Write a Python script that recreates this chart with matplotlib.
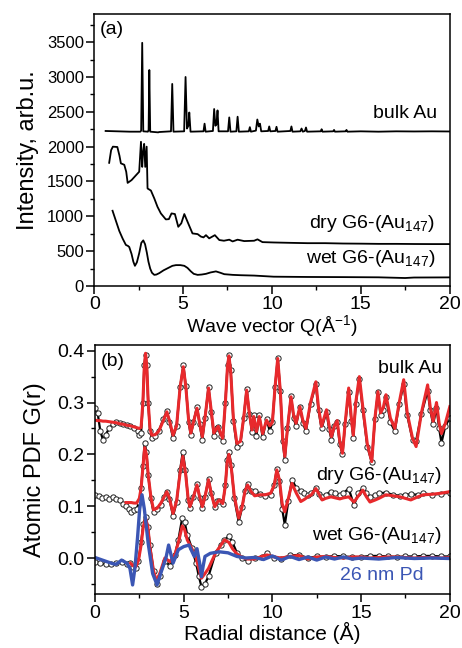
import matplotlib
matplotlib.use("Agg")
import matplotlib.pyplot as plt
from matplotlib.ticker import MultipleLocator

plt.rcParams["font.family"] = ["Liberation Sans", "DejaVu Sans"]
plt.rcParams["mathtext.default"] = "regular"

RED = "#E8292C"
BLUE = "#3B56B4"
nan = float("nan")

# ---- panel (a): diffraction patterns, Q in 1/A, intensity arb.u.
BULK_Q = [0.64, 2.0, 2.6, 2.64, 2.70, 2.76, 3.02, 3.06, 3.10, 3.15, 3.6, 3.65,
          4.32, 4.39, 4.46, 5.06, 5.14, 5.22, 5.30, 5.35, 5.42, 6.15, 6.21, 6.27,
          6.68, 6.75, 6.82, 6.88, 6.94, 7.00, 7.53, 7.60, 7.67, 8.0, 8.07, 8.14,
          8.70, 8.76, 8.82, 9.10, 9.18, 9.26, 9.33, 9.40, 9.79, 9.85, 9.91,
          10.2, 10.26, 10.32, 11.04, 11.1, 11.16, 11.6, 11.67, 11.74, 11.86,
          11.92, 11.98, 12.75, 12.8, 12.85, 13.45, 13.5, 13.55, 14.15, 14.2,
          14.25, 15.0, 16.0, 17.0, 18.0, 19.0, 20.0]
BULK_I = [2225, 2215, 2215, 2230, 3490, 2220, 2215, 2240, 3100, 2215, 2205, 2210,
          2220, 2900, 2215, 2220, 3000, 2260, 2300, 2490, 2215, 2220, 2330, 2215,
          2225, 2540, 2300, 2320, 2520, 2220, 2220, 2420, 2215, 2220, 2430, 2215,
          2220, 2280, 2215, 2230, 2390, 2290, 2330, 2220, 2225, 2290, 2220,
          2225, 2285, 2215, 2225, 2290, 2215, 2220, 2260, 2215, 2225,
          2275, 2215, 2220, 2250, 2215, 2220, 2240, 2215, 2220, 2240,
          2215, 2220, 2215, 2220, 2218, 2220, 2218]

DRY_Q = [0.84, 0.95, 1.05, 1.3, 1.42, 1.5, 1.69, 1.8, 1.88, 2.1, 2.35, 2.53,
         2.63, 2.70, 2.74, 2.81, 2.87, 2.95, 3.0, 3.19, 3.38, 3.56, 3.75, 4.03,
         4.2, 4.35, 4.54, 4.73, 4.9, 5.07, 5.29, 5.53, 5.82, 6.0, 6.15, 6.29,
         6.47, 6.79, 7.04, 7.3, 7.6, 7.79, 8.07, 8.44, 9.0, 9.19, 9.47, 10.1,
         11, 12, 13, 14, 15, 16, 17, 18, 19, 20]
DRY_I = [1768, 1950, 2000, 1995, 1870, 1760, 1740, 1640, 1480, 1520, 1590, 1640,
         2070, 1710, 1900, 2040, 1710, 2000, 1400, 1370, 1257, 1137, 1042, 956,
         960, 1042, 1033, 850, 900, 1033, 899, 755, 745, 710, 698, 730,
         684, 730, 660, 650, 665, 640, 665, 645, 650, 670, 630, 625,
         620, 615, 615, 610, 608, 605, 605, 603, 602, 602]

WET_Q = [1.03, 1.2, 1.41, 1.6, 1.78, 1.9, 1.97, 2.1, 2.2, 2.29, 2.4, 2.53,
         2.65, 2.76, 2.86, 2.96, 3.05, 3.15, 3.25, 3.38, 3.5, 3.66, 3.9, 4.13,
         4.4, 4.6, 4.85, 5.07, 5.25, 5.44, 5.6, 5.82, 6.05, 6.29, 6.55, 6.85,
         7.1, 7.32, 7.8, 8.26, 9, 10.1, 12, 14, 16, 17.5, 18, 20]
WET_I = [1080, 950, 790, 680, 590, 575, 560, 460, 350, 290, 340, 470,
         620, 655, 600, 480, 350, 250, 190, 160, 165, 185, 225, 255,
         290, 300, 300, 290, 260, 210, 175, 160, 165, 175, 195, 210,
         190, 170, 160, 155, 150, 134, 130, 128, 125, 115, 122, 124]

# ---- panel (b): atomic PDFs G(r), r in A; observed (circles) and fit (line)
BULK_R = [0, 0.15, 0.3, 0.45, 0.6, 0.8, 1.0, 1.2, 1.4, 1.6,
          1.8, 2.0, 2.2, 2.4, 2.5, 2.6, 2.7, 2.78, 2.85, 2.92,
          3.0, 3.1, 3.2, 3.4, 3.6, 3.85, 4.05, 4.2, 4.4, 4.6,
          4.8, 4.98, 5.12, 5.28, 5.4, 5.55, 5.75, 5.9, 6.05, 6.2,
          6.4, 6.55, 6.7, 6.85, 6.95, 7.08, 7.2, 7.35, 7.47, 7.55,
          7.65, 7.8, 8.0, 8.2, 8.38, 8.55, 8.7, 8.85, 8.95, 9.1,
          9.26, 9.45, 9.67, 9.85, 10.0, 10.15, 10.3, 10.45, 10.58, 10.7,
          10.85, 11.05, 11.2, 11.33, 11.55, 11.72, 11.89, 12.15, 12.45, 12.6,
          12.77, 13.05, 13.2, 13.33, 13.5, 13.65, 13.8, 13.95, 14.1, 14.3,
          14.45, 14.56, 14.7, 14.9, 15.1, 15.35, 15.6, 15.78, 15.95, 16.1,
          16.25, 16.4, 16.65, 16.9, 17.15, 17.4, 17.6, 17.9, 18.1, 18.4,
          18.75, 18.9, 19.06, 19.25, 19.4, 19.53, 19.75, 20.0]
BULK_FIT = [0.266, 0.265, 0.265, 0.264, 0.264, 0.263, 0.262, 0.261, 0.259, 0.258,
            0.256, 0.255, 0.253, 0.251, 0.250, 0.252, 0.300, 0.370, 0.395, 0.370,
            0.300, 0.250, 0.237, 0.238, 0.245, 0.265, 0.282, 0.265, 0.237, 0.255,
            0.330, 0.369, 0.330, 0.265, 0.241, 0.262, 0.289, 0.260, 0.234, 0.270,
            0.328, 0.285, 0.241, 0.250, 0.254, 0.240, 0.231, 0.300, 0.370, 0.390,
            0.360, 0.270, 0.221, 0.225, 0.270, 0.324, 0.280, 0.247, 0.273, 0.244,
            0.273, 0.240, 0.266, 0.255, 0.262, 0.330, 0.385, 0.320, 0.230, 0.196,
            0.250, 0.311, 0.275, 0.260, 0.292, 0.265, 0.250, 0.300, 0.340, 0.290,
            0.254, 0.286, 0.255, 0.234, 0.255, 0.265, 0.225, 0.202, 0.260, 0.328,
            0.270, 0.237, 0.300, 0.350, 0.290, 0.220, 0.186, 0.270, 0.321, 0.280,
            0.290, 0.315, 0.270, 0.250, 0.300, 0.344, 0.280, 0.231, 0.215, 0.280,
            0.334, 0.290, 0.264, 0.300, 0.260, 0.240, 0.260, 0.292]
BULK_OBS = [0.289, 0.280, 0.245, 0.228, 0.238, 0.250, 0.258, 0.262, 0.260, 0.258,
            0.256, 0.254, 0.250, 0.245, 0.238, 0.242, 0.300, 0.372, 0.392, 0.372,
            0.300, 0.245, 0.232, 0.236, 0.245, 0.268, 0.283, 0.262, 0.232, 0.255,
            0.330, 0.372, 0.332, 0.262, 0.237, 0.262, 0.292, 0.258, 0.228, 0.270,
            0.330, 0.282, 0.236, 0.250, 0.252, 0.235, 0.226, 0.300, 0.372, 0.392,
            0.362, 0.265, 0.215, 0.222, 0.270, 0.327, 0.278, 0.243, 0.275, 0.236,
            0.275, 0.233, 0.268, 0.245, 0.262, 0.330, 0.385, 0.322, 0.225, 0.190,
            0.250, 0.312, 0.270, 0.255, 0.292, 0.260, 0.245, 0.298, 0.335, 0.285,
            0.250, 0.282, 0.248, 0.228, 0.255, 0.262, 0.220, 0.200, 0.258, 0.320,
            0.265, 0.232, 0.298, 0.345, 0.285, 0.215, 0.185, 0.268, 0.320, 0.275,
            0.285, 0.310, 0.262, 0.245, 0.298, 0.335, 0.275, 0.228, 0.226, 0.278,
            0.322, 0.285, 0.258, 0.290, 0.250, 0.222, 0.255, 0.270]

DRY_R = [0, 0.2, 0.4, 0.6, 0.8, 1.0, 1.2, 1.4, 1.6, 1.75,
         1.9, 2.05, 2.2, 2.35, 2.5, 2.6, 2.7, 2.8, 2.9, 3.0,
         3.15, 3.3, 3.5, 3.7, 3.9, 4.05, 4.2, 4.4, 4.6, 4.8,
         4.95, 5.1, 5.25, 5.35, 5.55, 5.75, 5.9, 6.05, 6.2, 6.4,
         6.55, 6.75, 6.9, 7.0, 7.2, 7.35, 7.45, 7.55, 7.68, 7.85,
         8.1, 8.3, 8.45, 8.6, 8.8, 9.0, 9.3, 9.6, 9.9, 10.1,
         10.25, 10.4, 10.55, 10.7, 10.9, 11.1, 11.35, 11.6, 11.8, 12.0,
         12.2, 12.45, 12.65, 12.8, 13.0, 13.3, 13.55, 13.8, 14.0, 14.3,
         14.6, 14.85, 15.1, 15.3, 15.5, 15.8, 16.0, 16.4, 16.8, 17.2,
         17.5, 17.8, 18.2, 18.5, 19.0, 19.5, 20.0]
DRY_FIT = [nan, nan, nan, nan, nan, nan, nan, nan, nan, 0.107,
           0.107, 0.107, 0.106, 0.106, 0.115, 0.135, 0.175, 0.213, 0.200, 0.160,
           0.118, 0.093, 0.096, 0.105, 0.118, 0.128, 0.115, 0.086, 0.110, 0.165,
           0.196, 0.165, 0.115, 0.099, 0.118, 0.141, 0.118, 0.099, 0.118, 0.151,
           0.125, 0.099, 0.108, 0.112, 0.105, 0.140, 0.185, 0.200, 0.175, 0.120,
           0.077, 0.100, 0.128, 0.141, 0.128, 0.120, 0.122, 0.122, 0.125, 0.140,
           0.170, 0.150, 0.105, 0.089, 0.115, 0.144, 0.125, 0.109, 0.113, 0.118,
           0.122, 0.134, 0.122, 0.112, 0.115, 0.118, 0.116, 0.114, 0.116, 0.118,
           0.108, 0.120, 0.131, 0.118, 0.108, 0.112, 0.115, 0.122, 0.120, 0.118,
           0.115, 0.112, 0.118, 0.122, 0.123, 0.125, 0.128]
DRY_OBS = [0.122, 0.119, 0.115, 0.117, 0.113, 0.118, 0.114, 0.112, 0.105, 0.100,
           0.095, 0.089, 0.092, 0.095, 0.108, 0.135, 0.178, 0.221, 0.205, 0.160,
           0.115, 0.088, 0.094, 0.102, 0.118, 0.128, 0.113, 0.081, 0.108, 0.170,
           0.205, 0.170, 0.112, 0.096, 0.118, 0.143, 0.116, 0.096, 0.118, 0.153,
           0.125, 0.099, 0.110, 0.110, 0.104, 0.140, 0.190, 0.205, 0.180, 0.115,
           0.070, 0.098, 0.130, 0.143, 0.130, 0.130, 0.124, 0.120, 0.122, 0.140,
           0.172, 0.148, 0.095, 0.064, 0.110, 0.151, 0.135, 0.130, 0.125, 0.122,
           0.125, 0.135, 0.124, 0.118, 0.122, 0.128, 0.125, 0.122, 0.125, 0.134,
           0.102, 0.125, 0.135, 0.125, 0.118, 0.122, 0.125, 0.126, 0.122, 0.120,
           0.122, 0.123, 0.122, 0.125, 0.122, 0.124, 0.126]

WET_R = [0, 0.3, 0.6, 0.9, 1.2, 1.5, 1.8, 2.0, 2.15, 2.3,
         2.45, 2.6, 2.72, 2.85, 2.98, 3.1, 3.3, 3.47, 3.65, 3.94,
         4.22, 4.5, 4.7, 4.92, 5.05, 5.2, 5.45, 5.7, 5.85, 6.0,
         6.2, 6.4, 6.8, 7.1, 7.3, 7.55, 7.75, 8.0, 8.3, 8.6,
         9.0, 9.4, 9.7, 10.1, 10.5, 11.0, 11.5, 12.0, 12.5, 13.0,
         13.5, 14.0, 14.5, 15.0, 15.5, 16.0, 16.5, 17.0, 17.5, 18.0,
         18.5, 19.0, 19.5, 20.0]
WET_FIT = [nan, nan, nan, nan, nan, nan, nan, -0.010, -0.015, -0.017,
           -0.005, 0.025, 0.060, 0.077, 0.060, 0.020, -0.025, -0.045, -0.030, 0.0,
           -0.007, 0.006, 0.030, 0.062, 0.055, 0.035, 0.019, 0.0, -0.020, -0.039,
           -0.030, -0.020, 0.010, 0.025, 0.035, 0.030, 0.018, 0.008, 0.001, -0.002,
           -0.002, 0.003, 0.006, 0.002, 0.0, 0.003, 0.005, -0.002, 0.002, 0.003,
           0.001, 0.0, 0.002, 0.002, 0.0, 0.001, 0.002, 0.002, 0.001, 0.0,
           0.001, 0.001, 0.0, 0.001]
WET_OBS = [-0.007, -0.010, -0.012, -0.011, -0.010, -0.008, -0.012, -0.010, -0.018, -0.020,
           -0.005, 0.030, 0.065, 0.080, 0.060, 0.025, -0.025, -0.050, -0.035, -0.005,
           -0.015, 0.005, 0.035, 0.078, 0.070, 0.045, 0.020, -0.010, -0.035, -0.055,
           -0.050, -0.035, 0.010, 0.025, 0.035, 0.042, 0.030, 0.010, 0.0, -0.005,
           0.0, 0.002, 0.009, 0.0, -0.001, 0.005, 0.006, 0.0, 0.003, 0.002,
           0.004, 0.003, 0.002, 0.002, 0.004, 0.004, 0.003, 0.002, 0.003, 0.003,
           0.004, 0.004, 0.003, 0.003]

PD_R = [0, 0.5, 1.0, 1.2, 1.5, 1.8, 1.97, 2.12, 2.25, 2.4,
        2.52, 2.65, 2.78, 3.0, 3.25, 3.5, 3.75, 4.0, 4.15, 4.4,
        4.7, 5.0, 5.3, 5.5, 5.6, 5.75, 5.9, 6.0, 6.1, 6.2,
        6.5, 7.0, 7.5, 8.0, 8.5, 9.0, 9.5, 10.0, 10.5, 11.0,
        11.5, 12.0, 12.5, 13.0, 13.5, 14.0, 14.5, 15.0, 16.0, 17.0,
        18.0, 19.0, 20.0]
PD_G = [0.001, -0.005, -0.011, -0.012, -0.004, -0.010, -0.020, -0.052, -0.020, 0.040,
        0.095, 0.122, 0.095, 0.028, -0.030, -0.052, -0.025, 0.0, 0.025, -0.010,
        0.016, 0.022, 0.025, 0.010, 0.003, 0.018, -0.010, -0.036, -0.015, 0.003,
        0.009, 0.012, 0.010, 0.003, 0.0, 0.001, -0.003, 0.004, -0.004, 0.003,
        -0.003, 0.002, -0.004, 0.002, -0.002, 0.002, -0.002, 0.0, -0.002, 0.001,
        -0.001, 0.0, -0.001]


def style_axes(ax):
    for s in ax.spines.values():
        s.set_linewidth(1.1)
    ax.tick_params(which="major", direction="out", length=5.5, width=1.1, pad=2,
                   top=False, right=False, labelsize=14)
    ax.tick_params(which="minor", direction="out", length=2.8, width=1.0,
                   top=False, right=False)


fig = plt.figure(figsize=(4.62, 6.48), dpi=100)
ax_a = fig.add_axes([0.204, 0.5586, 0.769, 0.4194])
ax_b = fig.add_axes([0.2056, 0.0829, 0.768, 0.3847])

# (a)
for q, inten in [(BULK_Q, BULK_I), (DRY_Q, DRY_I), (WET_Q, WET_I)]:
    ax_a.plot(q, inten, color="k", lw=1.3)
ax_a.set_xlim(0, 20)
ax_a.set_ylim(0, 3900)
ax_a.xaxis.set_major_locator(MultipleLocator(5))
ax_a.xaxis.set_minor_locator(MultipleLocator(2.5))
ax_a.yaxis.set_major_locator(MultipleLocator(500))
ax_a.yaxis.set_minor_locator(MultipleLocator(250))
style_axes(ax_a)
ax_a.tick_params(axis="y", labelsize=12)
ax_a.set_xlabel("Wave vector Q(Å$^{-1}$)", fontsize=14, labelpad=0)
ax_a.set_ylabel("Intensity, arb.u.", fontsize=17, labelpad=5.5)
ax_a.text(0.3, 3800, "(a)", fontsize=14, va="top")
ax_a.text(19.3, 2470, "bulk Au", fontsize=14, ha="right", va="center")
ax_a.text(19.2, 900, "dry G6-(Au$_{147}$)", fontsize=14, ha="right", va="center")
ax_a.text(19.2, 400, "wet G6-(Au$_{147}$)", fontsize=14, ha="right", va="center")

# (b)
mk = dict(color="k", lw=1.6, marker="o", ms=3.8, mfc="white", mec="#222222", mew=0.7)
for r, obs in [(BULK_R, BULK_OBS), (DRY_R, DRY_OBS), (WET_R, WET_OBS)]:
    ax_b.plot(r, obs, **mk)
for r, fit in [(BULK_R, BULK_FIT), (DRY_R, DRY_FIT), (WET_R, WET_FIT)]:
    ax_b.plot(r, fit, color=RED, lw=2.2)
ax_b.plot(PD_R, PD_G, color=BLUE, lw=2.4)
ax_b.set_xlim(0, 20)
ax_b.set_ylim(-0.07, 0.411)
ax_b.xaxis.set_major_locator(MultipleLocator(5))
ax_b.xaxis.set_minor_locator(MultipleLocator(2.5))
ax_b.yaxis.set_minor_locator(MultipleLocator(0.05))
ax_b.set_yticks([0.0, 0.1, 0.2, 0.3, 0.4])
style_axes(ax_b)
ax_b.set_xlabel("Radial distance (Å)", fontsize=15, labelpad=0)
ax_b.set_ylabel("Atomic PDF G(r)", fontsize=17, labelpad=8)
ax_b.text(0.35, 0.395, "(b)", fontsize=14, va="top")
ax_b.text(19.55, 0.365, "bulk Au", fontsize=14, ha="right", va="center")
ax_b.text(19.55, 0.160, "dry G6-(Au$_{147}$)", fontsize=14, ha="right", va="center")
ax_b.text(19.5, 0.044, "wet G6-(Au$_{147}$)", fontsize=14, ha="right", va="center")
ax_b.text(18.5, -0.033, "26 nm Pd", fontsize=14, ha="right", va="center", color=BLUE)

fig.savefig("out.png", dpi=100)
